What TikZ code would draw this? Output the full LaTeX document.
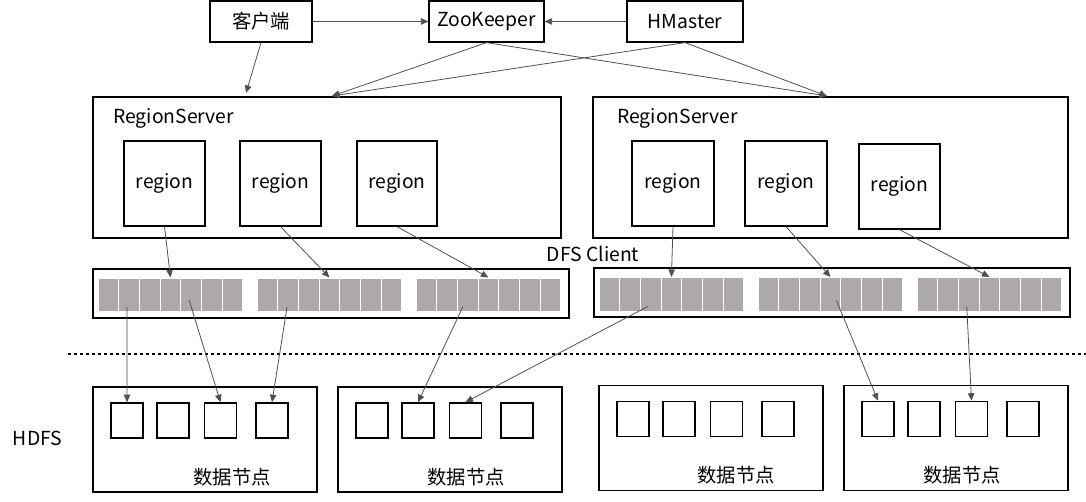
\documentclass[tikz,border=0pt]{standalone}
\usepackage{fontspec}
\setmainfont{Noto Sans CJK SC}
\usepackage{xcolor}
\usepackage{tikz}
\usetikzlibrary{calc, arrows.meta}

\definecolor{cellgrey}{RGB}{172,169,168}
\definecolor{linegrey}{RGB}{80,80,80}

\begin{document}
\begin{tikzpicture}[x = 0.2mm, y = -0.2mm,
		box/.style = {draw, line width = 0.7pt, inner sep = 0pt},
		small box/.style = {draw, line width = 0.9pt, minimum width = 6.4mm, minimum height = 7mm, inner sep = 0pt},
		cell/.style = {draw = white, line width = 0.6pt, fill = cellgrey, minimum width = 4.14mm, minimum height = 6.8mm, inner sep = 0pt},
		link/.style = {draw = linegrey, line width = 0.45pt, -{Triangle[length = 1.5mm, width = 1.3mm]}},
		font = \fontsize{11pt}{13pt}\selectfont]
		\useasboundingbox (0,0) rectangle (1086,502);

		\node (client) at (261,21.5) [box, minimum width = 20.4mm, minimum height = 8.2mm] {客户端};
		\node (zk) at (486.5,21.5) [box, minimum width = 23mm, minimum height = 8.2mm] {ZooKeeper};
		\node (hm) at (685,21.5) [box, minimum width = 23.2mm, minimum height = 8.2mm] {HMaster};

		\node (rs1) at (327,167.5) [box, minimum width = 93.6mm, minimum height = 28.2mm] {};
		\node (rs2) at (830.5,167.5) [box, minimum width = 95mm, minimum height = 28.2mm] {};
		\node (rs1 label) at (113,118) [anchor = west, inner sep = 0pt] {RegionServer};
		\node (rs2 label) at (617,118) [anchor = west, inner sep = 0pt] {RegionServer};

		\node (r11) at (164.5,183.5) [box, minimum width = 16.2mm, minimum height = 17mm] {region};
		\node (r12) at (280.5,183.5) [box, minimum width = 16.2mm, minimum height = 17mm] {region};
		\node (r13) at (397,183.5) [box, minimum width = 16mm, minimum height = 17mm] {region};
		\node (r21) at (673,183.5) [box, minimum width = 16.4mm, minimum height = 17mm] {region};
		\node (r22) at (786,183.5) [box, minimum width = 16.4mm, minimum height = 17mm] {region};
		\node (r23) at (899.5,186.5) [box, minimum width = 16.2mm, minimum height = 17mm] {region};

		\node (dfs) at (593,254) {DFS Client};

		\node (bar1) at (331,293.5) [box, minimum width = 95.2mm, minimum height = 9.8mm] {};
		\node (bar2) at (832,292.5) [box, minimum width = 95.2mm, minimum height = 9.8mm] {};
		\foreach \g/\xs/\yc in {1/98/295, 2/257/295, 3/416/295, 4/599/294.5, 5/758/294.5, 6/917/294.5}
			\foreach \k in {0,...,6}
				\node (c\g\k) at ({\xs + 20.7*\k + 10.35},\yc) [cell] {};

		\coordinate (sep left) at (68,354);
		\coordinate (sep right) at (1086,354);
		\draw [line width = 1.7pt, dash pattern = on 1.7pt off 1.7pt] (sep left) -- (sep right);

		\node (hdfs) at (37.5,438) {HDFS};

		\foreach \i/\x/\y/\lx in {1/205/439.5/232, 2/450/439.5/466, 3/711/438/736, 4/956/438/962} {
			\node (dn\i) at (\x,\y) [box, minimum width = 44.8mm, minimum height = 21mm] {};
			\foreach \j/\dx in {1/34, 2/80, 3/127.5, 4/179}
				\node (b\i\j) at ({\x - 112 + \dx},{\y - 19}) [small box] {};
			\node (l\i) at (\lx,{\y + 37.5}) {数据节点};
		}

		\coordinate (client end) at (246,93);
		\coordinate (rs1 top) at (332,96);
		\coordinate (rs2 top) at (827,96);

		\draw [link] (client) -- (zk);
		\draw [link] (hm) -- (zk);
		\draw [link] (client.south) -- (client end);
		\draw [link] (zk.south) -- (rs1 top);
		\draw [link] (zk.south) -- (rs2 top);
		\draw [link] (hm.south) -- (rs1 top);
		\draw [link] (hm.south) -- (rs2 top);

		\draw [link] (r11.south) -- (c13.north);
		\draw [link] (r12.south) -- (c23.north);
		\draw [link] (r13.south) -- (c33.north);
		\draw [link] (r21.south) -- (c43.north);
		\draw [link] (r22.south) -- (c53.north);
		\draw [link] (r23.south) -- (c63.north);

		\draw [link] ($(c11.center) + (-2,12)$) -- (b11.north);
		\draw [link] ($(c14.center) + (-2,5)$) -- (b13.north);
		\draw [link] ($(c21.center) + (-1,12)$) -- (b14.north);
		\draw [link] ($(c32.center) + (-5,12)$) -- (b22.north);
		\draw [link] ($(c42.center) + (-3,12)$) -- (b23.north);
		\draw [link] ($(c53.center) + (6,6)$) -- (b41.north);
		\draw [link] ($(c62.center) + (-2,12)$) -- (b43.north);
	\end{tikzpicture}
\end{document}
